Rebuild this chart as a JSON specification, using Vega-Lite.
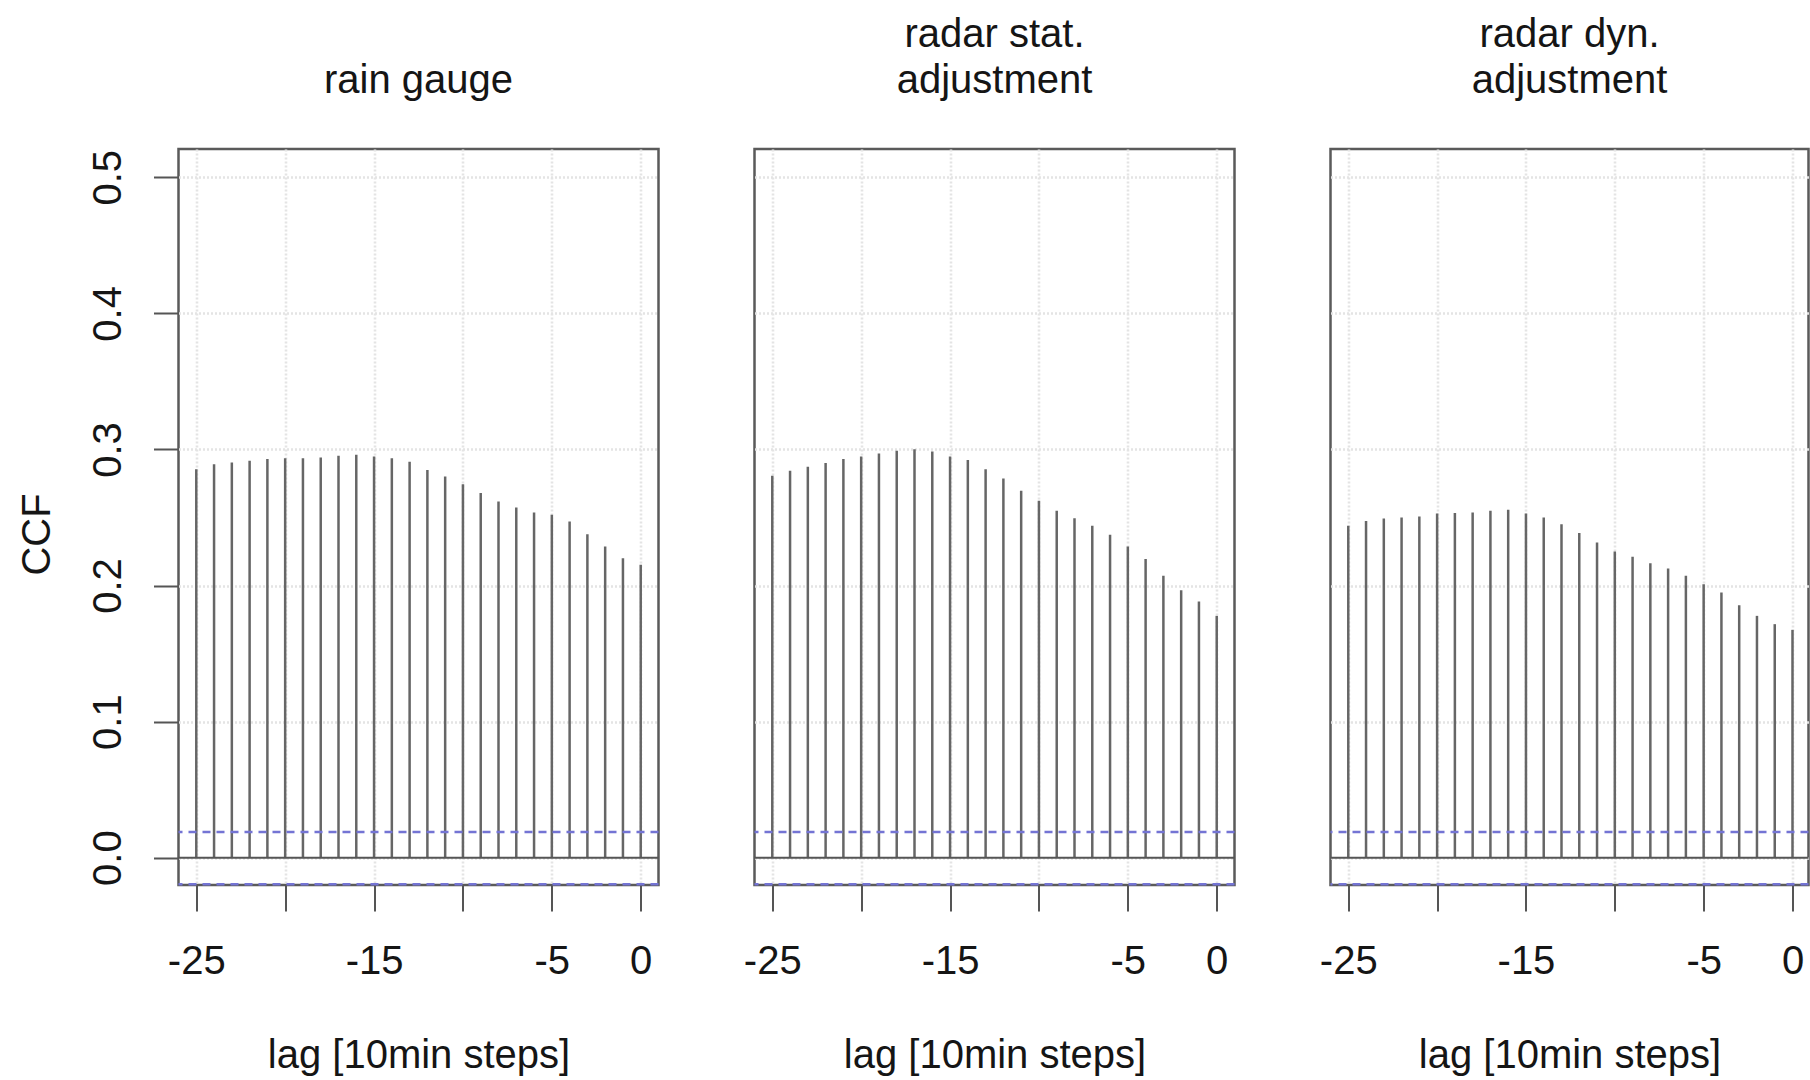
{
  "$schema": "https://vega.github.io/schema/vega-lite/v6.json",
  "background": "white",
  "padding": {"left": 15.5, "top": 13, "right": 0, "bottom": 0},
  "spacing": 96,
  "bounds": "flush",
  "config": {
    "font": "Liberation Sans",
    "view": {"stroke": "#5a5a5a", "strokeWidth": 2.5},
    "title": {"fontSize": 40, "fontWeight": "normal", "color": "#151515", "lineHeight": 46, "baseline": "bottom", "offset": 47.8, "anchor": "middle", "frame": "group"},
    "axis": {
      "labelFont": "Liberation Sans", "titleFont": "Liberation Sans",
      "labelFontSize": 40, "labelColor": "#151515", "titleFontSize": 40, "titleFontWeight": "normal", "titleColor": "#151515",
      "tickSize": 25, "tickColor": "#555555", "tickWidth": 2, "domain": false,
      "grid": true, "gridColor": "#e4e4e4", "gridDash": [2, 2], "gridWidth": 2.6,
      "zindex": 1, "labelFlush": false, "labelOverlap": false
    }
  },
  "datasets": {
    "ccf": [
      {"panel": "rain gauge", "lag": -25, "ccf": 0.2855},
      {"panel": "rain gauge", "lag": -24, "ccf": 0.2892},
      {"panel": "rain gauge", "lag": -23, "ccf": 0.2904},
      {"panel": "rain gauge", "lag": -22, "ccf": 0.2917},
      {"panel": "rain gauge", "lag": -21, "ccf": 0.2929},
      {"panel": "rain gauge", "lag": -20, "ccf": 0.2936},
      {"panel": "rain gauge", "lag": -19, "ccf": 0.2936},
      {"panel": "rain gauge", "lag": -18, "ccf": 0.2941},
      {"panel": "rain gauge", "lag": -17, "ccf": 0.2953},
      {"panel": "rain gauge", "lag": -16, "ccf": 0.2961},
      {"panel": "rain gauge", "lag": -15, "ccf": 0.2949},
      {"panel": "rain gauge", "lag": -14, "ccf": 0.2936},
      {"panel": "rain gauge", "lag": -13, "ccf": 0.2909},
      {"panel": "rain gauge", "lag": -12, "ccf": 0.2848},
      {"panel": "rain gauge", "lag": -11, "ccf": 0.2801},
      {"panel": "rain gauge", "lag": -10, "ccf": 0.2745},
      {"panel": "rain gauge", "lag": -9, "ccf": 0.2679},
      {"panel": "rain gauge", "lag": -8, "ccf": 0.2618},
      {"panel": "rain gauge", "lag": -7, "ccf": 0.2574},
      {"panel": "rain gauge", "lag": -6, "ccf": 0.2537},
      {"panel": "rain gauge", "lag": -5, "ccf": 0.2520},
      {"panel": "rain gauge", "lag": -4, "ccf": 0.2471},
      {"panel": "rain gauge", "lag": -3, "ccf": 0.2377},
      {"panel": "rain gauge", "lag": -2, "ccf": 0.2287},
      {"panel": "rain gauge", "lag": -1, "ccf": 0.2201},
      {"panel": "rain gauge", "lag": 0, "ccf": 0.2152},
      {"panel": "radar stat. adjustment", "lag": -25, "ccf": 0.2806},
      {"panel": "radar stat. adjustment", "lag": -24, "ccf": 0.2843},
      {"panel": "radar stat. adjustment", "lag": -23, "ccf": 0.2873},
      {"panel": "radar stat. adjustment", "lag": -22, "ccf": 0.2900},
      {"panel": "radar stat. adjustment", "lag": -21, "ccf": 0.2929},
      {"panel": "radar stat. adjustment", "lag": -20, "ccf": 0.2949},
      {"panel": "radar stat. adjustment", "lag": -19, "ccf": 0.2971},
      {"panel": "radar stat. adjustment", "lag": -18, "ccf": 0.2990},
      {"panel": "radar stat. adjustment", "lag": -17, "ccf": 0.3002},
      {"panel": "radar stat. adjustment", "lag": -16, "ccf": 0.2985},
      {"panel": "radar stat. adjustment", "lag": -15, "ccf": 0.2949},
      {"panel": "radar stat. adjustment", "lag": -14, "ccf": 0.2922},
      {"panel": "radar stat. adjustment", "lag": -13, "ccf": 0.2855},
      {"panel": "radar stat. adjustment", "lag": -12, "ccf": 0.2787},
      {"panel": "radar stat. adjustment", "lag": -11, "ccf": 0.2696},
      {"panel": "radar stat. adjustment", "lag": -10, "ccf": 0.2623},
      {"panel": "radar stat. adjustment", "lag": -9, "ccf": 0.2549},
      {"panel": "radar stat. adjustment", "lag": -8, "ccf": 0.2495},
      {"panel": "radar stat. adjustment", "lag": -7, "ccf": 0.2439},
      {"panel": "radar stat. adjustment", "lag": -6, "ccf": 0.2373},
      {"panel": "radar stat. adjustment", "lag": -5, "ccf": 0.2287},
      {"panel": "radar stat. adjustment", "lag": -4, "ccf": 0.2194},
      {"panel": "radar stat. adjustment", "lag": -3, "ccf": 0.2071},
      {"panel": "radar stat. adjustment", "lag": -2, "ccf": 0.1966},
      {"panel": "radar stat. adjustment", "lag": -1, "ccf": 0.1882},
      {"panel": "radar stat. adjustment", "lag": 0, "ccf": 0.1777},
      {"panel": "radar dyn. adjustment", "lag": -25, "ccf": 0.2439},
      {"panel": "radar dyn. adjustment", "lag": -24, "ccf": 0.2475},
      {"panel": "radar dyn. adjustment", "lag": -23, "ccf": 0.2493},
      {"panel": "radar dyn. adjustment", "lag": -22, "ccf": 0.2500},
      {"panel": "radar dyn. adjustment", "lag": -21, "ccf": 0.2507},
      {"panel": "radar dyn. adjustment", "lag": -20, "ccf": 0.2529},
      {"panel": "radar dyn. adjustment", "lag": -19, "ccf": 0.2532},
      {"panel": "radar dyn. adjustment", "lag": -18, "ccf": 0.2537},
      {"panel": "radar dyn. adjustment", "lag": -17, "ccf": 0.2549},
      {"panel": "radar dyn. adjustment", "lag": -16, "ccf": 0.2556},
      {"panel": "radar dyn. adjustment", "lag": -15, "ccf": 0.2529},
      {"panel": "radar dyn. adjustment", "lag": -14, "ccf": 0.2500},
      {"panel": "radar dyn. adjustment", "lag": -13, "ccf": 0.2451},
      {"panel": "radar dyn. adjustment", "lag": -12, "ccf": 0.2385},
      {"panel": "radar dyn. adjustment", "lag": -11, "ccf": 0.2316},
      {"panel": "radar dyn. adjustment", "lag": -10, "ccf": 0.2250},
      {"panel": "radar dyn. adjustment", "lag": -9, "ccf": 0.2211},
      {"panel": "radar dyn. adjustment", "lag": -8, "ccf": 0.2164},
      {"panel": "radar dyn. adjustment", "lag": -7, "ccf": 0.2125},
      {"panel": "radar dyn. adjustment", "lag": -6, "ccf": 0.2071},
      {"panel": "radar dyn. adjustment", "lag": -5, "ccf": 0.2010},
      {"panel": "radar dyn. adjustment", "lag": -4, "ccf": 0.1949},
      {"panel": "radar dyn. adjustment", "lag": -3, "ccf": 0.1855},
      {"panel": "radar dyn. adjustment", "lag": -2, "ccf": 0.1777},
      {"panel": "radar dyn. adjustment", "lag": -1, "ccf": 0.1716},
      {"panel": "radar dyn. adjustment", "lag": 0, "ccf": 0.1674}
    ],
    "ref": [
      {"kind": "zero", "level": 0},
      {"kind": "ci", "level": 0.0189},
      {"kind": "ci", "level": -0.0196}
    ]
  },
  "hconcat": [
    {
      "width": 480,
      "height": 736,
      "title": {"text": "rain gauge"},
      "layer": [
        {
          "data": {"name": "ccf"},
          "transform": [{"filter": "datum.panel === 'rain gauge'"}],
          "mark": {"type": "rule", "color": "#666666", "strokeWidth": 2.5},
          "encoding": {
            "x": {"field": "lag", "type": "quantitative", "scale": {"domain": [-26, 1], "nice": false, "zero": false},
              "axis": {"values": [-25, -20, -15, -10, -5, 0], "labelExpr": "datum.value == -20 || datum.value == -10 ? '' : '' + datum.value", "labelBaseline": "middle", "labelPadding": 50, "tickSize": 26, "title": "lag [10min steps]", "titleBaseline": "middle", "titleY": 170}},
            "y": {"field": "ccf", "type": "quantitative", "scale": {"domain": [-0.0201, 0.5208], "nice": false, "zero": false},
              "axis": {"values": [0, 0.1, 0.2, 0.3, 0.4, 0.5], "format": ".1f", "labelAngle": 270, "labelAlign": "center", "labelBaseline": "middle", "labelPadding": 45, "title": "CCF", "titleAngle": 270, "titleAlign": "center", "titleBaseline": "middle", "titleX": -141, "titleY": 385}},
            "y2": {"datum": 0}
          }
        },
        {
          "data": {"name": "ref"},
          "transform": [{"filter": "datum.kind === 'zero'"}],
          "mark": {"type": "rule", "color": "#555555", "strokeWidth": 2},
          "encoding": {"y": {"field": "level", "type": "quantitative"}}
        },
        {
          "data": {"name": "ref"},
          "transform": [{"filter": "datum.kind === 'ci'"}],
          "mark": {"type": "rule", "color": "#7474d4", "strokeWidth": 2.5, "strokeDash": [8, 6]},
          "encoding": {"y": {"field": "level", "type": "quantitative"}}
        }
      ]
    },
    {
      "width": 480,
      "height": 736,
      "title": {"text": ["radar stat.", "adjustment"]},
      "layer": [
        {
          "data": {"name": "ccf"},
          "transform": [{"filter": "datum.panel === 'radar stat. adjustment'"}],
          "mark": {"type": "rule", "color": "#666666", "strokeWidth": 2.5},
          "encoding": {
            "x": {"field": "lag", "type": "quantitative", "scale": {"domain": [-26, 1], "nice": false, "zero": false},
              "axis": {"values": [-25, -20, -15, -10, -5, 0], "labelExpr": "datum.value == -20 || datum.value == -10 ? '' : '' + datum.value", "labelBaseline": "middle", "labelPadding": 50, "tickSize": 26, "title": "lag [10min steps]", "titleBaseline": "middle", "titleY": 170}},
            "y": {"field": "ccf", "type": "quantitative", "scale": {"domain": [-0.0201, 0.5208], "nice": false, "zero": false},
              "axis": {"values": [0, 0.1, 0.2, 0.3, 0.4, 0.5], "labels": false, "ticks": false, "title": null}},
            "y2": {"datum": 0}
          }
        },
        {
          "data": {"name": "ref"},
          "transform": [{"filter": "datum.kind === 'zero'"}],
          "mark": {"type": "rule", "color": "#555555", "strokeWidth": 2},
          "encoding": {"y": {"field": "level", "type": "quantitative"}}
        },
        {
          "data": {"name": "ref"},
          "transform": [{"filter": "datum.kind === 'ci'"}],
          "mark": {"type": "rule", "color": "#7474d4", "strokeWidth": 2.5, "strokeDash": [8, 6]},
          "encoding": {"y": {"field": "level", "type": "quantitative"}}
        }
      ]
    },
    {
      "width": 478,
      "height": 736,
      "title": {"text": ["radar dyn.", "adjustment"]},
      "layer": [
        {
          "data": {"name": "ccf"},
          "transform": [{"filter": "datum.panel === 'radar dyn. adjustment'"}],
          "mark": {"type": "rule", "color": "#666666", "strokeWidth": 2.5},
          "encoding": {
            "x": {"field": "lag", "type": "quantitative", "scale": {"domain": [-26, 0.9], "nice": false, "zero": false},
              "axis": {"values": [-25, -20, -15, -10, -5, 0], "labelExpr": "datum.value == -20 || datum.value == -10 ? '' : '' + datum.value", "labelBaseline": "middle", "labelPadding": 50, "tickSize": 26, "title": "lag [10min steps]", "titleBaseline": "middle", "titleY": 170}},
            "y": {"field": "ccf", "type": "quantitative", "scale": {"domain": [-0.0201, 0.5208], "nice": false, "zero": false},
              "axis": {"values": [0, 0.1, 0.2, 0.3, 0.4, 0.5], "labels": false, "ticks": false, "title": null}},
            "y2": {"datum": 0}
          }
        },
        {
          "data": {"name": "ref"},
          "transform": [{"filter": "datum.kind === 'zero'"}],
          "mark": {"type": "rule", "color": "#555555", "strokeWidth": 2},
          "encoding": {"y": {"field": "level", "type": "quantitative"}}
        },
        {
          "data": {"name": "ref"},
          "transform": [{"filter": "datum.kind === 'ci'"}],
          "mark": {"type": "rule", "color": "#7474d4", "strokeWidth": 2.5, "strokeDash": [8, 6]},
          "encoding": {"y": {"field": "level", "type": "quantitative"}}
        }
      ]
    }
  ]
}
